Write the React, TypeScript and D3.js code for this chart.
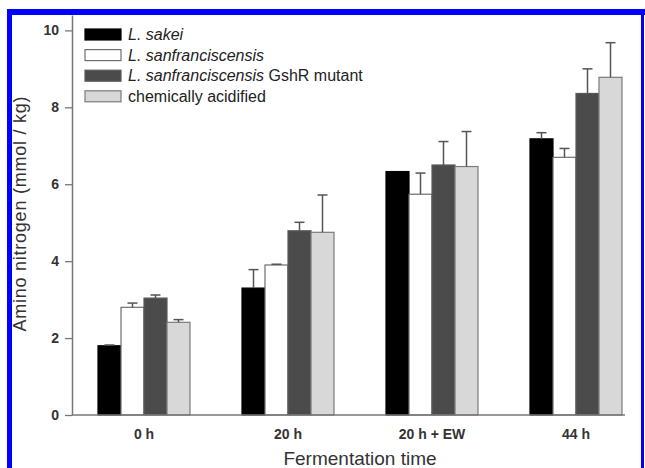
import React, { useEffect, useRef } from 'react';
import * as d3 from 'd3';

// values
const categories = ['0 h', '20 h', '20 h + EW', '44 h'];
const seriesNames = ['L. sakei', 'L. sanfranciscensis', 'L. sanfranciscensis GshR mutant', 'chemically acidified'];
const sakei = [1.8, 3.3, 6.33, 7.18];
const sakeiErr = [0.02, 0.48, 0, 0.16];
const sanfran = [2.8, 3.9, 5.74, 6.7];
const sanfranErr = [0.11, 0.02, 0.55, 0.23];
const mutant = [3.04, 4.79, 6.5, 8.36];
const mutantErr = [0.08, 0.22, 0.61, 0.64];
const acidified = [2.41, 4.75, 6.46, 8.78];
const acidifiedErr = [0.07, 0.97, 0.91, 0.9];
const yTicks = [0, 2, 4, 6, 8, 10];

const W = 645, H = 468;

const App = () => {
  const ref = useRef<SVGSVGElement>(null);

  useEffect(() => {
    const svg = d3.select(ref.current);
    svg.selectAll('*').remove();

    const left = 72, right = 625, top = 15, bottom = 415;
    const values = [sakei, sanfran, mutant, acidified];
    const errors = [sakeiErr, sanfranErr, mutantErr, acidifiedErr];
    const fills = ['#000000', '#ffffff', '#4b4b4b', '#d8d8d8'];
    const strokes = ['#000000', '#6e6e6e', '#5a5a5a', '#7a7a7a'];

    const x0 = d3.scaleBand().domain(categories).range([left, left + 144 * categories.length]).padding(0);
    const x1 = d3.scaleBand().domain(seriesNames).range([0, 92]).padding(0);
    const y = d3.scaleLinear().domain([0, 10.4]).range([bottom, top]);
    const off = (x0.bandwidth() - 92) / 2;

    // bars
    values.forEach((vals, s) => {
      const g = svg.append('g');
      g.selectAll('rect').data(vals).enter().append('rect')
        .attr('x', (d, i) => x0(categories[i])! + off + x1(seriesNames[s])!)
        .attr('y', (d) => y(d))
        .attr('width', x1.bandwidth())
        .attr('height', (d) => bottom - y(d))
        .attr('fill', fills[s])
        .attr('stroke', strokes[s])
        .attr('stroke-width', 1.2);

      // error bars (upper only)
      vals.forEach((v, i) => {
        const e = errors[s][i];
        if (e <= 0) return;
        const cx = x0(categories[i])! + off + x1(seriesNames[s])! + x1.bandwidth() / 2;
        g.append('line').attr('x1', cx).attr('x2', cx).attr('y1', y(v)).attr('y2', y(v + e))
          .attr('stroke', '#555').attr('stroke-width', 1.5);
        g.append('line').attr('x1', cx - 5).attr('x2', cx + 5).attr('y1', y(v + e)).attr('y2', y(v + e))
          .attr('stroke', '#555').attr('stroke-width', 1.5);
      });
    });

    // y axis
    const yAxis = svg.append('g')
      .attr('transform', `translate(${left}, 0)`)
      .call(d3.axisLeft(y).tickValues(yTicks).tickSize(7).tickSizeOuter(0).tickPadding(6).tickFormat(d3.format('d')));
    yAxis.select('.domain').attr('stroke', '#777').attr('stroke-width', 1.5);
    yAxis.selectAll('.tick line').attr('stroke', '#777').attr('stroke-width', 1.3);
    yAxis.selectAll('.tick text').attr('fill', '#333').attr('font-size', 14).attr('font-weight', 'bold')
      .attr('font-family', 'Liberation Sans, Arial, sans-serif');

    // x axis line and labels
    svg.append('line').attr('x1', left).attr('x2', right).attr('y1', bottom).attr('y2', bottom)
      .attr('stroke', '#777').attr('stroke-width', 1.5);
    svg.append('g').selectAll('text').data(categories).enter().append('text')
      .attr('x', (d) => x0(d)! + x0.bandwidth() / 2)
      .attr('y', 439)
      .attr('text-anchor', 'middle')
      .attr('font-size', 14).attr('font-weight', 'bold').attr('fill', '#333')
      .attr('font-family', 'Liberation Sans, Arial, sans-serif')
      .text((d) => d);

    // axis titles
    svg.append('text')
      .attr('transform', 'translate(26, 214) rotate(-90)')
      .attr('text-anchor', 'middle')
      .attr('font-size', 18).attr('fill', '#333')
      .attr('font-family', 'Liberation Sans, Arial, sans-serif')
      .attr('textLength', 235).attr('lengthAdjust', 'spacing')
      .text('Amino nitrogen (mmol / kg)');
    svg.append('text')
      .attr('x', 360).attr('y', 465)
      .attr('text-anchor', 'middle')
      .attr('font-size', 19).attr('fill', '#333')
      .attr('font-family', 'Liberation Sans, Arial, sans-serif')
      .text('Fermentation time');

    // legend
    const legend = svg.append('g').attr('font-family', 'Liberation Sans, Arial, sans-serif');
    seriesNames.forEach((name, s) => {
      const cy = 34.5 + s * 20.6;
      legend.append('rect').attr('x', 85).attr('y', cy - 5.5).attr('width', 36).attr('height', 11)
        .attr('fill', fills[s]).attr('stroke', strokes[s]).attr('stroke-width', 1.2);
      const t = legend.append('text').attr('x', 128).attr('y', cy + 5.5).attr('font-size', 16).attr('fill', '#222');
      if (s === 0) t.append('tspan').attr('font-style', 'italic').text('L. sakei');
      else if (s === 1) t.append('tspan').attr('font-style', 'italic').text('L. sanfranciscensis');
      else if (s === 2) {
        t.append('tspan').attr('font-style', 'italic').text('L. sanfranciscensis');
        t.append('tspan').text(' GshR mutant');
      } else t.text(name);
    });

    // blue frame of the figure
    svg.append('rect').attr('x', 7).attr('y', 9).attr('width', 638).attr('height', 6).attr('fill', '#0000ff');
    svg.append('rect').attr('x', 7).attr('y', 9).attr('width', 5).attr('height', H).attr('fill', '#0000ff');
    svg.append('rect').attr('x', 641).attr('y', 9).attr('width', 3).attr('height', H).attr('fill', '#0000ff');
  }, []);

  return (
    <svg ref={ref} width={W} height={H} style={{ position: 'absolute', left: 0, top: 0, background: '#fff' }} />
  );
};

export default App;
